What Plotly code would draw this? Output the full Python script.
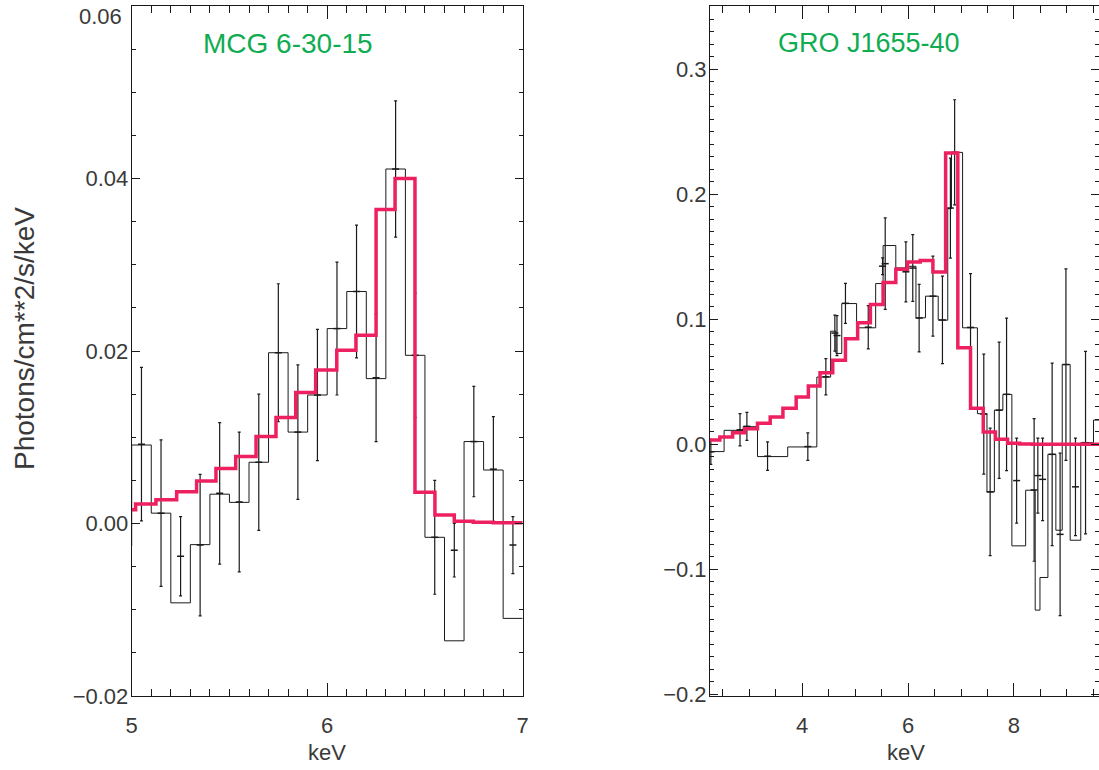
import plotly.graph_objects as go

# ---------------- Left panel: MCG 6-30-15 ----------------
mcg_edges = [4.9, 5.0, 5.1, 5.2, 5.3, 5.4, 5.5, 5.6, 5.7, 5.8, 5.9,
             6.0, 6.1, 6.2, 6.3, 6.4, 6.5, 6.6, 6.7, 6.8, 6.9, 7.0]
mcg_flux = [-0.0026, 0.0091, 0.0012, -0.0092, -0.00245, 0.0034, 0.00245,
            0.0071, 0.0198, 0.0106, 0.0149, 0.0226, 0.0269, 0.0168, 0.0411,
            0.0195, -0.0016, -0.0136, 0.0095, 0.0062, -0.0110]
mcg_err_x = [5.05, 5.15, 5.25, 5.35, 5.45, 5.55, 5.65, 5.75, 5.85, 5.95,
             6.05, 6.15, 6.25, 6.35, 6.45, 6.55, 6.65, 6.75, 6.85, 6.95]
mcg_err_mid = [0.0092, 0.0012, -0.0038, -0.0025, 0.0035, 0.0025, 0.0071,
               0.0198, 0.0106, 0.0149, 0.0226, 0.0269, 0.0169, 0.0411,
               0.0195, -0.0016, -0.0031, 0.0095, 0.0063, -0.0025]
mcg_err_half = [0.0089, 0.0085, 0.0046, 0.0082, 0.0082, 0.0081, 0.0079,
                0.0080, 0.0078, 0.0076, 0.0077, 0.0077, 0.0074, 0.0079,
                0.0072, 0.0066, 0.0031, 0.0064, 0.0061, 0.0033]
mcg_model_edges = [5.0, 5.02, 5.124, 5.23, 5.332, 5.431, 5.532, 5.636, 5.738,
                   5.839, 5.941, 6.049, 6.147, 6.25, 6.347, 6.449, 6.551,
                   6.65, 6.747, 6.85, 7.0]
mcg_model = [0.0016, 0.00226, 0.00276, 0.00368, 0.00492, 0.00639, 0.00778,
             0.01009, 0.01229, 0.01518, 0.0178, 0.02008, 0.02182, 0.0364,
             0.0400, 0.00361, 0.00098, 0.00025, 0.00014, 0.0001]
mcg_ytickvals = [-0.02, 0.0, 0.02, 0.04, 0.06]
mcg_yticktext = ["\u22120.02", "0.00", "0.02", "0.04", ""]
mcg_top_label = "0.06"

# ---------------- Right panel: GRO J1655-40 ----------------
gro_edges = [2.0, 2.53, 2.89, 3.16, 3.73, 4.28, 4.54, 4.64, 4.75, 5.03, 5.39,
             5.53, 5.77, 5.96, 6.15, 6.33, 6.57, 6.75, 6.82, 7.03, 7.31, 7.49,
             7.63, 7.79, 7.96, 8.22, 8.40, 8.49, 8.64, 8.79, 8.91, 9.06, 9.26,
             9.50, 9.9]
gro_flux = [-0.0058, 0.0112, 0.0141, -0.0098, -0.0021, 0.0538, 0.0905,
            0.0727, 0.1126, 0.0932, 0.1286, 0.159, 0.1411, 0.1424, 0.1012,
            0.1185, 0.0993, 0.1885, 0.2335, 0.0932, 0.0245, -0.0381, 0.0274,
            0.0399, -0.0812, -0.0367, -0.1326, -0.1065, -0.008, -0.0687,
            0.0639, -0.0767, 0.0013, 0.0194]
gro_err_x = [2.28, 2.83, 2.96, 3.35, 4.11, 4.45, 4.62, 4.66, 4.82, 5.25,
             5.52, 5.57, 5.96, 6.09, 6.21, 6.47, 6.65, 6.80, 6.88, 7.18,
             7.43, 7.55, 7.72, 7.86, 8.05, 8.38, 8.45, 8.54, 8.72, 8.87,
             8.98, 9.16, 9.35]
gro_err_mid = [-0.006, 0.0116, 0.0144, -0.0095, -0.0018, 0.054, 0.089, 0.087,
               0.1128, 0.0937, 0.1425, 0.1445, 0.138, 0.141, 0.101, 0.1185,
               0.0995, 0.189, 0.2336, 0.0935, 0.0242, -0.038, 0.0273, 0.040,
               -0.029, -0.0365, -0.025, -0.028, -0.008, -0.072, 0.0638,
               -0.034, 0.0013]
gro_err_half = [0.010, 0.0129, 0.0112, 0.0114, 0.011, 0.0145, 0.0144, 0.016,
                0.016, 0.0173, 0.0067, 0.0366, 0.024, 0.0267, 0.027, 0.032,
                0.035, 0.040, 0.042, 0.043, 0.048, 0.051, 0.0545, 0.061,
                0.034, 0.057, 0.030, 0.033, 0.073, 0.065, 0.0766, 0.039,
                0.073]
gro_model_edges = [2.0, 2.45, 2.69, 2.92, 3.16, 3.40, 3.64, 3.89, 4.12, 4.34,
                   4.58, 4.82, 5.05, 5.29, 5.53, 5.77, 5.99, 6.23, 6.47, 6.71,
                   6.94, 7.18, 7.42, 7.65, 7.88, 8.11, 8.35, 9.9]
gro_model = [0.0034, 0.0058, 0.0093, 0.0125, 0.0168, 0.0218, 0.0288, 0.0378,
             0.0466, 0.0573, 0.0673, 0.0844, 0.0972, 0.1118, 0.1294, 0.1400,
             0.1459, 0.1471, 0.1378, 0.2330, 0.0772, 0.0288, 0.0098, 0.0040,
             0.0008, 0.0002, 0.0]

titles = ["MCG 6-30-15", "GRO J1655-40"]
x_title = "keV"
y_title = "Photons/cm**2/s/keV"

W, H = 1099, 770
BLACK = "#1a1a1a"
RED = "#ee2160"
GREEN = "#0fac52"
TXT = "#3a3a3a"
FONT = "Liberation Sans, Arial, sans-serif"

fig = go.Figure()


def add_panel(xa, ya, edges, flux, ex, emid, ehalf, medges, model):
    fig.add_trace(go.Scatter(
        x=edges, y=list(flux) + [flux[-1]], mode="lines", line_shape="hv",
        line=dict(color=BLACK, width=1), xaxis=xa, yaxis=ya,
        showlegend=False, hoverinfo="skip"))
    fig.add_trace(go.Scatter(
        x=ex, y=emid, mode="markers",
        marker=dict(symbol="line-ew", size=5,
                    line=dict(width=1.5, color=BLACK), color=BLACK),
        error_y=dict(type="data", array=ehalf, visible=True, width=1.5,
                     thickness=1.2, color=BLACK),
        xaxis=xa, yaxis=ya, showlegend=False, hoverinfo="skip"))
    fig.add_trace(go.Scatter(
        x=medges, y=list(model) + [model[-1]], mode="lines", line_shape="hv",
        line=dict(color=RED, width=3.5), xaxis=xa, yaxis=ya,
        showlegend=False, hoverinfo="skip"))


add_panel("x", "y", mcg_edges, mcg_flux, mcg_err_x, mcg_err_mid,
          mcg_err_half, mcg_model_edges, mcg_model)
add_panel("x2", "y2", gro_edges, gro_flux, gro_err_x, gro_err_mid,
          gro_err_half, gro_model_edges, gro_model)

top_px, bot_px = 6, 696
ydom = [1 - bot_px / H, 1 - top_px / H]

common = dict(showline=True, linecolor=BLACK, linewidth=1, mirror="allticks",
              ticks="inside", tickcolor=BLACK, tickwidth=1, showgrid=False,
              zeroline=False, automargin=False, ticklabeloverflow="allow",
              tickfont=dict(family=FONT, size=22, color=TXT))

fig.update_layout(
    width=W, height=H, margin=dict(l=0, r=0, t=0, b=0, autoexpand=False),
    paper_bgcolor="white", plot_bgcolor="white",
    xaxis=dict(domain=[131.7 / W, 522.7 / W], range=[5, 7], anchor="y",
               dtick=1, tick0=0, ticklen=13, ticklabelstandoff=10,
               minor=dict(dtick=0.1, tick0=0, ticklen=7, ticks="inside",
                          tickcolor=BLACK, showgrid=False),
               **common),
    yaxis=dict(domain=ydom, range=[-0.02, 0.06000001], anchor="x",
               tickmode="array", tickvals=mcg_ytickvals,
               ticktext=mcg_yticktext, ticklen=8,
               ticklabelstandoff=-2,
               minor=dict(dtick=0.005, tick0=0, ticklen=4, ticks="inside",
                          tickcolor=BLACK, showgrid=False),
               **common),
    xaxis2=dict(domain=[710 / W, 1.0], range=[2.264, 9.604], anchor="y2",
                dtick=2, tick0=0, ticklen=13, ticklabelstandoff=10,
                minor=dict(dtick=0.5, tick0=0, ticklen=7, ticks="inside",
                           tickcolor=BLACK, showgrid=False),
                **common),
    yaxis2=dict(domain=ydom, range=[-0.2013, 0.3506], anchor="x2",
                dtick=0.1, tick0=0, ticklen=8, tickformat=".1f",
                ticklabelstandoff=-2,
                minor=dict(dtick=0.01, tick0=0, ticklen=4, ticks="inside",
                           tickcolor=BLACK, showgrid=False),
                **common),
)

ann = [
    dict(text=titles[0], x=200.7 / W, y=1 - 43.3 / H, xanchor="left",
         yanchor="middle", font=dict(family=FONT, size=28, color=GREEN)),
    dict(text=titles[1], x=776 / W, y=1 - 42.5 / H, xanchor="left",
         yanchor="middle", font=dict(family=FONT, size=27, color=GREEN)),
    dict(text=x_title, x=327 / W, y=1 - 752 / H, xanchor="center",
         yanchor="middle", font=dict(family=FONT, size=22, color=TXT)),
    dict(text=x_title, x=906 / W, y=1 - 752 / H, xanchor="center",
         yanchor="middle", font=dict(family=FONT, size=22, color=TXT)),
    dict(text=y_title, x=24 / W, y=1 - 339 / H, xanchor="center",
         yanchor="middle", textangle=-90,
         font=dict(family=FONT, size=28, color=TXT)),
    dict(text=mcg_top_label, x=124 / W, y=1 - 17 / H, xanchor="right",
         yanchor="middle", font=dict(family=FONT, size=22, color=TXT)),
]
for a in ann:
    a.update(xref="paper", yref="paper", showarrow=False)
fig.update_layout(annotations=ann)

fig.write_html(
    "out.html",
    config={"displayModeBar": False},
    post_script="document.body.style.margin='0px';"
                "document.body.style.overflow='hidden';")
